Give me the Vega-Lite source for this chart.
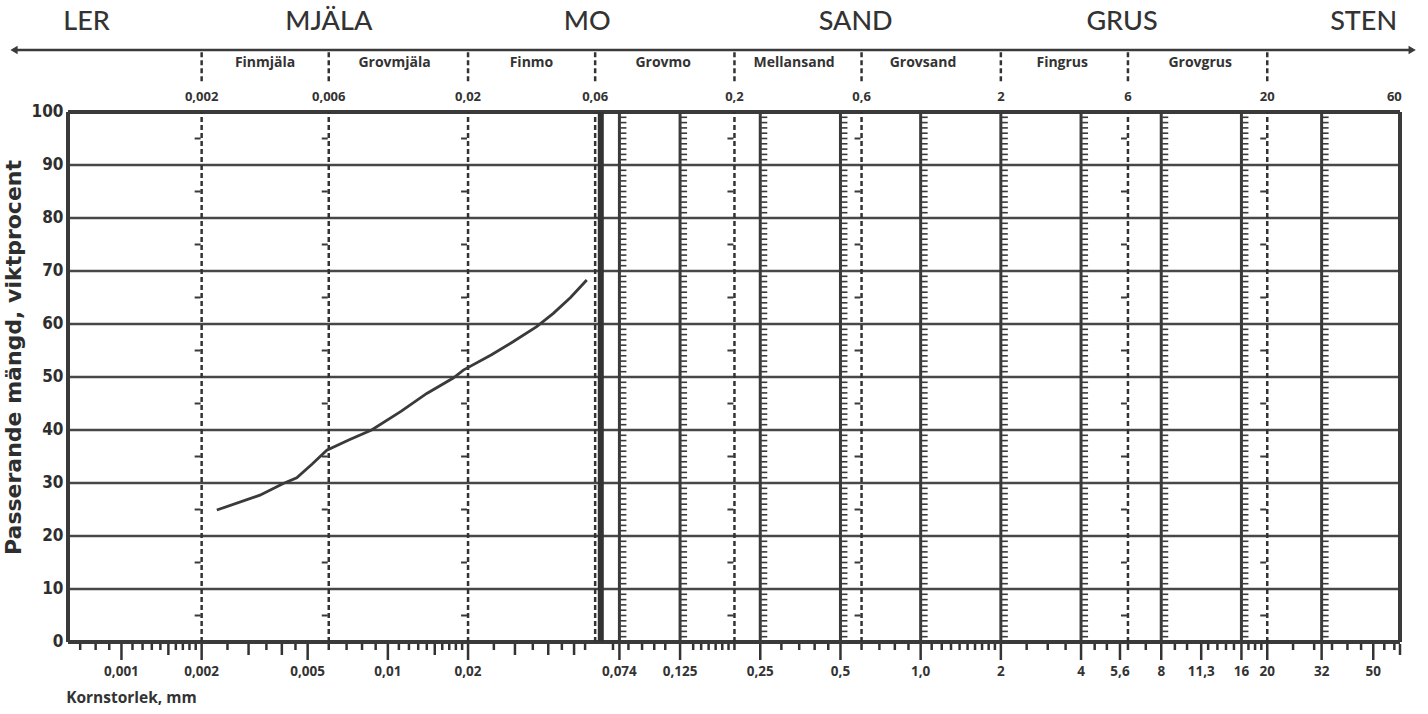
{
  "$schema": "https://vega.github.io/schema/vega-lite/v6.json",
  "autosize": {"type": "none"},
  "width": 1332,
  "height": 714,
  "padding": {"left": 68, "top": 0, "right": 28, "bottom": 0},
  "background": "#ffffff",
  "config": {"view": {"stroke": null}, "text": {"color": "#2e2e2e"}},
  "datasets": {
    "grid": [{"p": 10}, {"p": 20}, {"p": 30}, {"p": 40}, {"p": 50}, {"p": 60}, {"p": 70}, {"p": 80}, {"p": 90}],
    "frameH": [{"p": 0}, {"p": 100}],
    "frameV": [{"d": 0.00063}, {"d": 63}],
    "sieve": [{"d": 0.074}, {"d": 0.125}, {"d": 0.25}, {"d": 0.5}, {"d": 1}, {"d": 2}, {"d": 4}, {"d": 8}, {"d": 16}, {"d": 32}],
    "thick": [{"d": 0.063}],
    "dashIn": [{"d": 0.002}, {"d": 0.006}, {"d": 0.02}, {"d": 0.06}, {"d": 0.2}, {"d": 0.6}, {"d": 6}, {"d": 20}],
    "dashTop": [{"d": 0.002}, {"d": 0.006}, {"d": 0.02}, {"d": 0.06}, {"d": 0.2}, {"d": 0.6}, {"d": 2}, {"d": 6}, {"d": 20}],
    "ladder": [{"xs": [0.074, 0.125, 0.25, 0.5, 1, 2, 4, 8, 16, 32], "ps": [1,2,3,4,5,6,7,8,9,11,12,13,14,15,16,17,18,19,21,22,23,24,25,26,27,28,29,31,32,33,34,35,36,37,38,39,41,42,43,44,45,46,47,48,49,51,52,53,54,55,56,57,58,59,61,62,63,64,65,66,67,68,69,71,72,73,74,75,76,77,78,79,81,82,83,84,85,86,87,88,89,91,92,93,94,95,96,97,98,99]}],
    "mids": [{"xs": [0.002, 0.006, 0.02, 0.2, 0.6, 6, 20], "ps": [5, 15, 25, 35, 45, 55, 65, 75, 85, 95]}],
    "bt": [
      {"v": 0.001, "k": "L"}, {"v": 0.002, "k": "L"}, {"v": 0.005, "k": "L"}, {"v": 0.01, "k": "L"}, {"v": 0.02, "k": "L"},
      {"v": 0.074, "k": "L"}, {"v": 0.125, "k": "L"}, {"v": 0.25, "k": "L"}, {"v": 0.5, "k": "L"}, {"v": 1, "k": "L"},
      {"v": 2, "k": "L"}, {"v": 4, "k": "L"}, {"v": 5.6, "k": "L"}, {"v": 8, "k": "L"}, {"v": 11.3, "k": "L"},
      {"v": 16, "k": "L"}, {"v": 20, "k": "L"}, {"v": 32, "k": "L"}, {"v": 50, "k": "L"},
      {"v": 0.0015, "k": "M"}, {"v": 0.003, "k": "M"}, {"v": 0.004, "k": "M"}, {"v": 0.015, "k": "M"},
      {"v": 0.03, "k": "M"}, {"v": 0.04, "k": "M"}, {"v": 0.05, "k": "M"}, {"v": 63, "k": "M"},
      {"v": 0.0007, "k": "S"}, {"v": 0.0008, "k": "S"}, {"v": 0.0009, "k": "S"}, {"v": 0.0011, "k": "S"},
      {"v": 0.0012, "k": "S"}, {"v": 0.0013, "k": "S"}, {"v": 0.0014, "k": "S"}, {"v": 0.0016, "k": "S"},
      {"v": 0.0017, "k": "S"}, {"v": 0.0018, "k": "S"}, {"v": 0.0019, "k": "S"}, {"v": 0.0025, "k": "S"},
      {"v": 0.0035, "k": "S"}, {"v": 0.0045, "k": "S"}, {"v": 0.006, "k": "S"}, {"v": 0.007, "k": "S"},
      {"v": 0.008, "k": "S"}, {"v": 0.009, "k": "S"}, {"v": 0.011, "k": "S"}, {"v": 0.012, "k": "S"},
      {"v": 0.013, "k": "S"}, {"v": 0.014, "k": "S"}, {"v": 0.016, "k": "S"}, {"v": 0.017, "k": "S"},
      {"v": 0.018, "k": "S"}, {"v": 0.019, "k": "S"}, {"v": 0.025, "k": "S"}, {"v": 0.035, "k": "S"},
      {"v": 0.045, "k": "S"}, {"v": 0.055, "k": "S"}, {"v": 0.07, "k": "S"}, {"v": 0.08, "k": "S"},
      {"v": 0.09, "k": "S"}, {"v": 0.1, "k": "S"}, {"v": 0.11, "k": "S"}, {"v": 0.14, "k": "S"},
      {"v": 0.15, "k": "S"}, {"v": 0.16, "k": "S"}, {"v": 0.17, "k": "S"}, {"v": 0.18, "k": "S"},
      {"v": 0.19, "k": "S"}, {"v": 0.2, "k": "S"}, {"v": 0.3, "k": "S"}, {"v": 0.35, "k": "S"},
      {"v": 0.4, "k": "S"}, {"v": 0.45, "k": "S"}, {"v": 0.6, "k": "S"}, {"v": 0.7, "k": "S"},
      {"v": 0.8, "k": "S"}, {"v": 0.9, "k": "S"}, {"v": 1.1, "k": "S"}, {"v": 1.2, "k": "S"},
      {"v": 1.3, "k": "S"}, {"v": 1.4, "k": "S"}, {"v": 1.5, "k": "S"}, {"v": 1.6, "k": "S"},
      {"v": 1.7, "k": "S"}, {"v": 1.8, "k": "S"}, {"v": 1.9, "k": "S"}, {"v": 2.5, "k": "S"},
      {"v": 3, "k": "S"}, {"v": 3.5, "k": "S"}, {"v": 4.5, "k": "S"}, {"v": 5, "k": "S"},
      {"v": 6, "k": "S"}, {"v": 7, "k": "S"}, {"v": 9, "k": "S"}, {"v": 10, "k": "S"},
      {"v": 12, "k": "S"}, {"v": 13, "k": "S"}, {"v": 14, "k": "S"}, {"v": 15, "k": "S"},
      {"v": 17, "k": "S"}, {"v": 18, "k": "S"}, {"v": 19, "k": "S"}, {"v": 25, "k": "S"},
      {"v": 30, "k": "S"}, {"v": 35, "k": "S"}, {"v": 40, "k": "S"}, {"v": 45, "k": "S"},
      {"v": 55, "k": "S"}, {"v": 60, "k": "S"}
    ],
    "curve": [
      {"d": 0.00228, "p": 24.9}, {"d": 0.00331, "p": 27.7}, {"d": 0.00405, "p": 29.9},
      {"d": 0.00455, "p": 31.0}, {"d": 0.0052, "p": 33.6}, {"d": 0.0059, "p": 36.2},
      {"d": 0.0072, "p": 38.2}, {"d": 0.00869, "p": 40.0}, {"d": 0.0112, "p": 43.5},
      {"d": 0.014, "p": 46.9}, {"d": 0.0176, "p": 49.8}, {"d": 0.0192, "p": 51.3},
      {"d": 0.0245, "p": 54.2}, {"d": 0.0296, "p": 56.7}, {"d": 0.0362, "p": 59.5},
      {"d": 0.0418, "p": 62.0}, {"d": 0.0485, "p": 65.0}, {"d": 0.0558, "p": 68.3}
    ],
    "zones": [
      {"d": 0.00074, "t": "LER"}, {"d": 0.006, "t": "MJÄLA"}, {"d": 0.056, "t": "MO"},
      {"d": 0.57, "t": "SAND"}, {"d": 5.7, "t": "GRUS"}, {"d": 46, "t": "STEN"}
    ],
    "subzones": [
      {"d": 0.00346, "t": "Finmjäla"}, {"d": 0.0106, "t": "Grovmjäla"}, {"d": 0.0346, "t": "Finmo"},
      {"d": 0.108, "t": "Grovmo"}, {"d": 0.335, "t": "Mellansand"}, {"d": 1.02, "t": "Grovsand"},
      {"d": 3.4, "t": "Fingrus"}, {"d": 11.2, "t": "Grovgrus"}
    ],
    "topnums": [
      {"d": 0.002, "t": "0,002"}, {"d": 0.006, "t": "0,006"}, {"d": 0.02, "t": "0,02"},
      {"d": 0.06, "t": "0,06"}, {"d": 0.2, "t": "0,2"}, {"d": 0.6, "t": "0,6"},
      {"d": 2, "t": "2"}, {"d": 6, "t": "6"}, {"d": 20, "t": "20"}, {"d": 60, "t": "60"}
    ],
    "botnums": [
      {"d": 0.001, "t": "0,001"}, {"d": 0.002, "t": "0,002"}, {"d": 0.005, "t": "0,005"},
      {"d": 0.01, "t": "0,01"}, {"d": 0.02, "t": "0,02"}, {"d": 0.074, "t": "0,074"},
      {"d": 0.125, "t": "0,125"}, {"d": 0.25, "t": "0,25"}, {"d": 0.5, "t": "0,5"},
      {"d": 1, "t": "1,0"}, {"d": 2, "t": "2"}, {"d": 4, "t": "4"}, {"d": 5.6, "t": "5,6"},
      {"d": 8, "t": "8"}, {"d": 11.3, "t": "11,3"}, {"d": 16, "t": "16"}, {"d": 20, "t": "20"},
      {"d": 32, "t": "32"}, {"d": 50, "t": "50"}
    ]
  },
  "layer": [
    {
      "data": {"name": "grid"},
      "mark": {"type": "rule", "color": "#474747", "strokeWidth": 2.5},
      "encoding": {
        "x": {"datum": 0.00063, "type": "quantitative", "scale": {"type": "log", "domain": [0.00063, 63], "nice": false}, "axis": null},
        "x2": {"datum": 63},
        "y": {"field": "p", "type": "quantitative", "scale": {"domain": [-13.585, 121.132], "nice": false, "zero": false},
          "axis": {"values": [0, 10, 20, 30, 40, 50, 60, 70, 80, 90, 100], "domain": false, "ticks": false, "grid": false,
            "labelFont": "DejaVu Sans Condensed", "labelFontWeight": "bold", "labelFontSize": 17, "labelColor": "#2e2e2e",
            "labelPadding": 5, "title": "Passerande mängd, viktprocent", "titleFont": "DejaVu Sans",
            "titleFontSize": 22, "titleFontWeight": "bold", "titleColor": "#2e2e2e", "titlePadding": 6}}
      }
    },
    {
      "data": {"name": "frameH"},
      "mark": {"type": "rule", "color": "#3a3a3a", "strokeWidth": 4},
      "encoding": {
        "x": {"datum": 0.00063, "type": "quantitative", "scale": {"type": "log", "domain": [0.00063, 63], "nice": false}, "axis": null},
        "x2": {"datum": 63},
        "y": {"field": "p", "type": "quantitative", "scale": {"domain": [-13.585, 121.132], "nice": false, "zero": false}}
      }
    },
    {
      "data": {"name": "frameV"},
      "mark": {"type": "rule", "color": "#3a3a3a", "strokeWidth": 4},
      "encoding": {
        "x": {"field": "d", "type": "quantitative", "scale": {"type": "log", "domain": [0.00063, 63], "nice": false}, "axis": null},
        "y": {"datum": 0, "type": "quantitative", "scale": {"domain": [-13.585, 121.132], "nice": false, "zero": false}},
        "y2": {"datum": 100}
      }
    },
    {
      "data": {"name": "sieve"},
      "mark": {"type": "rule", "color": "#3a3a3a", "strokeWidth": 3},
      "encoding": {
        "x": {"field": "d", "type": "quantitative", "scale": {"type": "log", "domain": [0.00063, 63], "nice": false}, "axis": null},
        "y": {"datum": 0, "type": "quantitative", "scale": {"domain": [-13.585, 121.132], "nice": false, "zero": false}},
        "y2": {"datum": 100}
      }
    },
    {
      "data": {"name": "thick"},
      "mark": {"type": "rule", "color": "#333333", "strokeWidth": 6},
      "encoding": {
        "x": {"field": "d", "type": "quantitative", "scale": {"type": "log", "domain": [0.00063, 63], "nice": false}, "axis": null},
        "y": {"datum": 0, "type": "quantitative", "scale": {"domain": [-13.585, 121.132], "nice": false, "zero": false}},
        "y2": {"datum": 100}
      }
    },
    {
      "data": {"name": "dashIn"},
      "mark": {"type": "rule", "color": "#333333", "strokeWidth": 2.5, "strokeDash": [5, 3]},
      "encoding": {
        "x": {"field": "d", "type": "quantitative", "scale": {"type": "log", "domain": [0.00063, 63], "nice": false}, "axis": null},
        "y": {"datum": 0, "type": "quantitative", "scale": {"domain": [-13.585, 121.132], "nice": false, "zero": false}},
        "y2": {"datum": 100}
      }
    },
    {
      "data": {"name": "dashTop"},
      "mark": {"type": "rule", "color": "#333333", "strokeWidth": 2.5, "strokeDash": [5, 3]},
      "encoding": {
        "x": {"field": "d", "type": "quantitative", "scale": {"type": "log", "domain": [0.00063, 63], "nice": false}, "axis": null},
        "y": {"datum": 105.8, "type": "quantitative", "scale": {"domain": [-13.585, 121.132], "nice": false, "zero": false}},
        "y2": {"datum": 111.7}
      }
    },
    {
      "data": {"values": [{}]},
      "mark": {"type": "rule", "color": "#3a3a3a", "strokeWidth": 2.5},
      "encoding": {
        "x": {"datum": 0.0004, "type": "quantitative", "scale": {"type": "log", "domain": [0.00063, 63], "nice": false}, "axis": null},
        "x2": {"datum": 70},
        "y": {"datum": 111.7, "type": "quantitative", "scale": {"domain": [-13.585, 121.132], "nice": false, "zero": false}}
      }
    },
    {
      "data": {"values": [{}]},
      "mark": {"type": "point", "shape": "triangle-left", "filled": true, "color": "#3a3a3a", "size": 70, "opacity": 1},
      "encoding": {
        "x": {"datum": 0.000395, "type": "quantitative", "scale": {"type": "log", "domain": [0.00063, 63], "nice": false}, "axis": null},
        "y": {"datum": 111.7, "type": "quantitative", "scale": {"domain": [-13.585, 121.132], "nice": false, "zero": false}}
      }
    },
    {
      "data": {"values": [{}]},
      "mark": {"type": "point", "shape": "triangle-right", "filled": true, "color": "#3a3a3a", "size": 70, "opacity": 1},
      "encoding": {
        "x": {"datum": 70, "type": "quantitative", "scale": {"type": "log", "domain": [0.00063, 63], "nice": false}, "axis": null},
        "y": {"datum": 111.7, "type": "quantitative", "scale": {"domain": [-13.585, 121.132], "nice": false, "zero": false}}
      }
    },
    {
      "data": {"name": "ladder"},
      "transform": [{"flatten": ["xs"]}, {"flatten": ["ps"]}],
      "mark": {"type": "tick", "orient": "horizontal", "size": 6, "thickness": 1.6, "xOffset": 4, "color": "#3a3a3a", "opacity": 1},
      "encoding": {
        "x": {"field": "xs", "type": "quantitative", "scale": {"type": "log", "domain": [0.00063, 63], "nice": false}, "axis": null},
        "y": {"field": "ps", "type": "quantitative", "scale": {"domain": [-13.585, 121.132], "nice": false, "zero": false}}
      }
    },
    {
      "data": {"name": "mids"},
      "transform": [{"flatten": ["xs"]}, {"flatten": ["ps"]}],
      "mark": {"type": "tick", "orient": "horizontal", "size": 6, "thickness": 2, "xOffset": -4, "color": "#3a3a3a", "opacity": 1},
      "encoding": {
        "x": {"field": "xs", "type": "quantitative", "scale": {"type": "log", "domain": [0.00063, 63], "nice": false}, "axis": null},
        "y": {"field": "ps", "type": "quantitative", "scale": {"domain": [-13.585, 121.132], "nice": false, "zero": false}}
      }
    },
    {
      "data": {"name": "bt"},
      "transform": [{"filter": "datum.k == 'L'"}],
      "mark": {"type": "tick", "orient": "vertical", "size": 16, "thickness": 2.5, "yOffset": 10, "color": "#333333", "opacity": 1},
      "encoding": {
        "x": {"field": "v", "type": "quantitative", "scale": {"type": "log", "domain": [0.00063, 63], "nice": false}, "axis": null},
        "y": {"datum": 0, "type": "quantitative", "scale": {"domain": [-13.585, 121.132], "nice": false, "zero": false}}
      }
    },
    {
      "data": {"name": "bt"},
      "transform": [{"filter": "datum.k == 'M'"}],
      "mark": {"type": "tick", "orient": "vertical", "size": 11, "thickness": 2.5, "yOffset": 7.5, "color": "#333333", "opacity": 1},
      "encoding": {
        "x": {"field": "v", "type": "quantitative", "scale": {"type": "log", "domain": [0.00063, 63], "nice": false}, "axis": null},
        "y": {"datum": 0, "type": "quantitative", "scale": {"domain": [-13.585, 121.132], "nice": false, "zero": false}}
      }
    },
    {
      "data": {"name": "bt"},
      "transform": [{"filter": "datum.k == 'S'"}],
      "mark": {"type": "tick", "orient": "vertical", "size": 6, "thickness": 2.5, "yOffset": 5, "color": "#333333", "opacity": 1},
      "encoding": {
        "x": {"field": "v", "type": "quantitative", "scale": {"type": "log", "domain": [0.00063, 63], "nice": false}, "axis": null},
        "y": {"datum": 0, "type": "quantitative", "scale": {"domain": [-13.585, 121.132], "nice": false, "zero": false}}
      }
    },
    {
      "data": {"name": "curve"},
      "mark": {"type": "line", "color": "#3a3a3a", "strokeWidth": 2.8, "interpolate": "linear"},
      "encoding": {
        "x": {"field": "d", "type": "quantitative", "scale": {"type": "log", "domain": [0.00063, 63], "nice": false}, "axis": null},
        "y": {"field": "p", "type": "quantitative", "scale": {"domain": [-13.585, 121.132], "nice": false, "zero": false}}
      }
    },
    {
      "data": {"name": "zones"},
      "mark": {"type": "text", "font": "Lato", "fontSize": 27, "fontWeight": 500, "baseline": "middle", "align": "center", "color": "#333333"},
      "encoding": {
        "x": {"field": "d", "type": "quantitative", "scale": {"type": "log", "domain": [0.00063, 63], "nice": false}, "axis": null},
        "y": {"datum": 116.9, "type": "quantitative", "scale": {"domain": [-13.585, 121.132], "nice": false, "zero": false}},
        "text": {"field": "t"}
      }
    },
    {
      "data": {"name": "subzones"},
      "mark": {"type": "text", "font": "Open Sans", "fontSize": 14, "fontWeight": "bold", "baseline": "middle", "align": "center", "color": "#333333"},
      "encoding": {
        "x": {"field": "d", "type": "quantitative", "scale": {"type": "log", "domain": [0.00063, 63], "nice": false}, "axis": null},
        "y": {"datum": 109.3, "type": "quantitative", "scale": {"domain": [-13.585, 121.132], "nice": false, "zero": false}},
        "text": {"field": "t"}
      }
    },
    {
      "data": {"name": "topnums"},
      "mark": {"type": "text", "font": "Open Sans", "fontSize": 13, "fontWeight": "bold", "baseline": "middle", "align": "center", "color": "#333333"},
      "encoding": {
        "x": {"field": "d", "type": "quantitative", "scale": {"type": "log", "domain": [0.00063, 63], "nice": false}, "axis": null},
        "y": {"datum": 102.8, "type": "quantitative", "scale": {"domain": [-13.585, 121.132], "nice": false, "zero": false}},
        "text": {"field": "t"}
      }
    },
    {
      "data": {"name": "botnums"},
      "mark": {"type": "text", "font": "Open Sans", "fontSize": 13.5, "fontWeight": "bold", "baseline": "middle", "align": "center", "color": "#333333"},
      "encoding": {
        "x": {"field": "d", "type": "quantitative", "scale": {"type": "log", "domain": [0.00063, 63], "nice": false}, "axis": null},
        "y": {"datum": -5.7, "type": "quantitative", "scale": {"domain": [-13.585, 121.132], "nice": false, "zero": false}},
        "text": {"field": "t"}
      }
    },
    {
      "data": {"values": [{"t": "Kornstorlek, mm"}]},
      "mark": {"type": "text", "font": "Open Sans", "fontSize": 15.5, "fontWeight": "bold", "baseline": "middle", "align": "left", "color": "#333333"},
      "encoding": {
        "x": {"datum": 0.00062, "type": "quantitative", "scale": {"type": "log", "domain": [0.00063, 63], "nice": false}, "axis": null},
        "y": {"datum": -10.6, "type": "quantitative", "scale": {"domain": [-13.585, 121.132], "nice": false, "zero": false}},
        "text": {"field": "t"}
      }
    }
  ]
}
